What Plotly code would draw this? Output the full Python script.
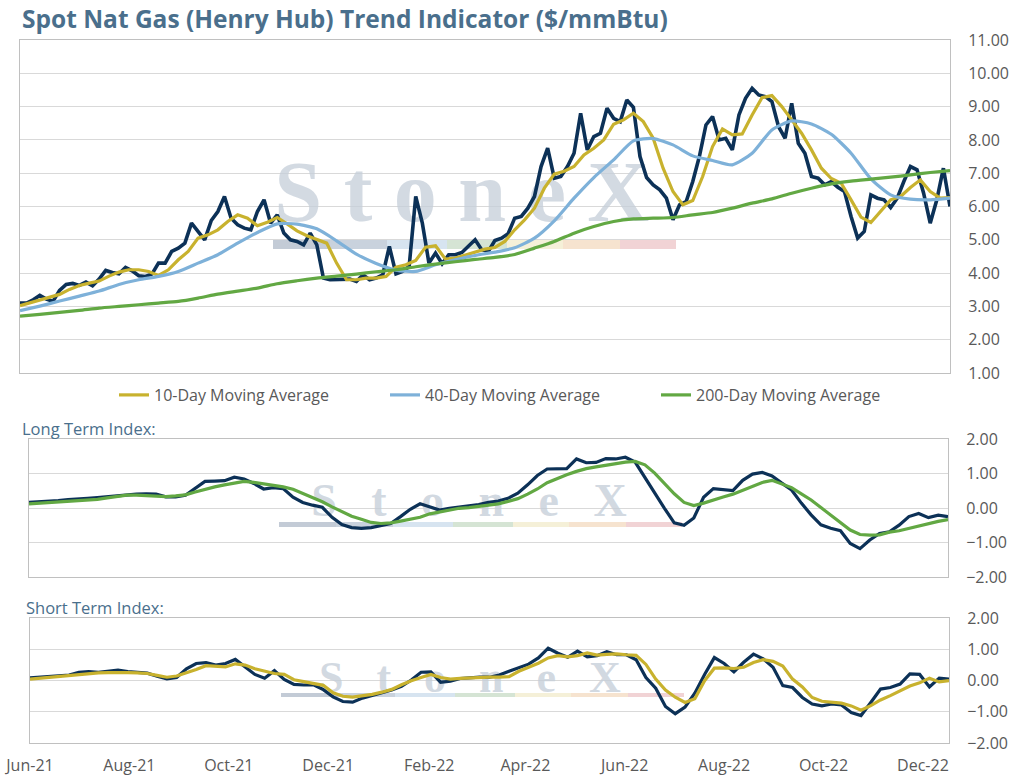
import pandas as pd
import plotly.graph_objects as go

START = "2021-06-01"
END = "2022-12-17"

# Spot price, every 4 days
price = [3.10, 3.10, 3.20, 3.33, 3.22, 3.15, 3.48, 3.66, 3.69, 3.63,
         3.73, 3.62, 3.82, 4.08, 4.02, 3.98, 4.17, 4.07, 3.92, 3.90,
         3.97, 4.30, 4.30, 4.65, 4.75, 4.90, 5.50, 5.25, 5.00, 5.58,
         5.85, 6.30, 5.65, 5.45, 5.35, 5.30, 5.85, 6.20, 5.50, 5.75,
         5.20, 5.00, 4.95, 4.85, 5.20, 4.85, 3.85, 3.80, 3.80, 3.80,
         3.82, 3.75, 3.95, 3.80, 3.85, 3.95, 4.80, 3.98, 4.05, 4.20,
         6.30, 5.50, 4.30, 4.60, 4.28, 4.55, 4.55, 4.62, 4.82, 5.00,
         4.70, 4.65, 4.98, 5.05, 5.18, 5.65, 5.70, 5.95, 6.30, 7.20,
         7.75, 6.85, 6.90, 7.20, 7.60, 8.80, 7.70, 8.10, 8.20, 8.95,
         8.65, 8.55, 9.20, 8.98, 7.50, 6.87, 6.65, 6.50, 6.25, 5.60,
         6.05, 6.15, 6.75, 7.50, 8.45, 8.70, 8.00, 8.05, 7.70, 8.75,
         9.25, 9.55, 9.35, 9.30, 9.15, 8.40, 8.05, 9.10, 7.90, 7.60,
         6.90, 6.85, 6.65, 6.75, 6.58, 6.45, 5.70, 5.05, 5.25, 6.35,
         6.25, 6.20, 5.97, 6.25, 6.75, 7.20, 7.10, 6.40, 5.50, 6.20,
         7.15, 6.00]

# 10-day moving average, every 6 days
ma10 = [3.02, 3.10, 3.19, 3.26, 3.36, 3.51, 3.63, 3.70, 3.76, 3.91,
        4.03, 4.10, 4.10, 4.05, 3.93, 4.10, 4.40, 4.65, 5.05, 5.15,
        5.30, 5.55, 5.75, 5.65, 5.42, 5.53, 5.67, 5.48, 5.27, 5.12,
        5.00, 4.90, 4.30, 3.80, 3.80, 3.85, 3.85, 3.90, 4.18, 4.25,
        4.38, 4.78, 4.82, 4.42, 4.45, 4.54, 4.64, 4.72, 4.77, 4.95,
        5.30, 5.60, 5.95, 6.55, 6.97, 7.06, 7.20, 7.55, 7.75, 8.00,
        8.47, 8.60, 8.80, 8.55, 8.05, 7.15, 6.45, 6.05, 6.18, 6.90,
        7.80, 8.33, 8.15, 8.18, 8.75, 9.27, 9.33, 9.00, 8.60, 8.20,
        7.70, 7.15, 6.84, 6.70, 6.20, 5.68, 5.52, 5.85, 6.20, 6.30,
        6.57, 6.80, 6.45, 6.25, 6.27]

# 40-day and 200-day moving averages, every 12 days
ma40 = [2.87, 3.01, 3.16, 3.31, 3.46, 3.66, 3.80, 3.90, 4.05, 4.30,
        4.55, 4.90, 5.22, 5.48, 5.47, 5.33, 4.97, 4.57, 4.29, 4.09,
        4.05, 4.25, 4.40, 4.53, 4.63, 4.76, 5.05, 5.57, 6.25, 6.87,
        7.40, 7.97, 8.04, 7.85, 7.52, 7.38, 7.25, 7.60, 8.30, 8.57,
        8.48, 8.17, 7.60, 6.83, 6.35, 6.22, 6.20, 6.25]
ma200 = [2.71, 2.76, 2.82, 2.88, 2.95, 3.00, 3.05, 3.10, 3.15, 3.25,
         3.37, 3.46, 3.55, 3.68, 3.77, 3.85, 3.91, 3.97, 4.04, 4.10,
         4.19, 4.27, 4.34, 4.41, 4.47, 4.56, 4.75, 4.95, 5.20, 5.40,
         5.55, 5.63, 5.65, 5.67, 5.75, 5.82, 5.95, 6.10, 6.23, 6.40,
         6.55, 6.68, 6.76, 6.82, 6.88, 6.95, 7.02, 7.08]

# Long term index (every 6 days)
lt_index = [0.17, 0.18, 0.19, 0.22, 0.25, 0.26, 0.29, 0.31, 0.34, 0.37,
            0.39, 0.41, 0.42, 0.41, 0.33, 0.33, 0.38, 0.57, 0.78, 0.79,
            0.80, 0.90, 0.85, 0.72, 0.56, 0.60, 0.57, 0.32, 0.17, 0.09,
            0.03, -0.26, -0.47, -0.56, -0.58, -0.56, -0.50, -0.44, -0.24, -0.03,
            0.13, 0.03, -0.05, 0.00, 0.03, 0.07, 0.11, 0.17, 0.21, 0.29,
            0.44, 0.68, 0.95, 1.14, 1.15, 1.15, 1.43, 1.32, 1.33, 1.44,
            1.43, 1.48, 1.34, 0.88, 0.45, 0.00, -0.42, -0.49, -0.28, 0.32,
            0.57, 0.55, 0.51, 0.81, 0.99, 1.04, 0.94, 0.73, 0.53, 0.15,
            -0.19, -0.48, -0.58, -0.65, -1.02, -1.17, -0.92, -0.73, -0.68, -0.49,
            -0.24, -0.15, -0.27, -0.20, -0.24]
lt_signal = [0.13, 0.15, 0.17, 0.18, 0.19, 0.22, 0.24, 0.26, 0.30, 0.34,
             0.38, 0.38, 0.37, 0.35, 0.34, 0.36, 0.39, 0.47, 0.55, 0.62,
             0.68, 0.74, 0.78, 0.75, 0.71, 0.67, 0.62, 0.55, 0.43, 0.30,
             0.19, 0.04, -0.10, -0.23, -0.32, -0.41, -0.44, -0.42, -0.37, -0.31,
             -0.26, -0.16, -0.10, -0.04, 0.00, 0.02, 0.05, 0.10, 0.13, 0.20,
             0.28, 0.41, 0.56, 0.74, 0.86, 0.97, 1.07, 1.15, 1.20, 1.25,
             1.29, 1.34, 1.36, 1.26, 1.02, 0.73, 0.42, 0.17, 0.08, 0.15,
             0.25, 0.33, 0.41, 0.53, 0.65, 0.75, 0.81, 0.71, 0.60, 0.42,
             0.24, 0.02, -0.20, -0.40, -0.63, -0.76, -0.78, -0.77, -0.69, -0.65,
             -0.58, -0.50, -0.45, -0.38, -0.33]

# Short term index (every 6 days)
st_index = [0.09, 0.11, 0.12, 0.15, 0.18, 0.27, 0.29, 0.27, 0.31, 0.34,
            0.29, 0.26, 0.24, 0.14, 0.06, 0.10, 0.38, 0.55, 0.58, 0.50,
            0.55, 0.68, 0.44, 0.20, 0.08, 0.32, 0.04, -0.12, -0.14, -0.13,
            -0.29, -0.52, -0.67, -0.69, -0.56, -0.47, -0.39, -0.30, -0.18, 0.02,
            0.27, 0.28, -0.05, -0.02, 0.07, 0.10, 0.11, 0.11, 0.18, 0.30,
            0.42, 0.53, 0.73, 1.04, 0.88, 0.75, 0.95, 0.76, 0.80, 0.93,
            0.83, 0.83, 0.67, 0.10, -0.24, -0.83, -1.06, -0.85, -0.40, 0.20,
            0.74, 0.55, 0.28, 0.59, 0.85, 0.70, 0.43, -0.16, -0.22, -0.54,
            -0.75, -0.81, -0.75, -0.78, -1.02, -1.12, -0.70, -0.27, -0.22, -0.11,
            0.22, 0.20, -0.20, 0.08, 0.05]
st_signal = [0.05, 0.08, 0.12, 0.15, 0.17, 0.19, 0.23, 0.25, 0.26, 0.27,
             0.26, 0.25, 0.23, 0.17, 0.11, 0.15, 0.25, 0.36, 0.48, 0.45,
             0.44, 0.54, 0.50, 0.38, 0.30, 0.23, 0.20, 0.03, -0.03, -0.09,
             -0.15, -0.39, -0.50, -0.53, -0.49, -0.44, -0.37, -0.28, -0.13, 0.00,
             0.10, 0.20, 0.10, 0.05, 0.07, 0.09, 0.10, 0.11, 0.11, 0.13,
             0.30, 0.42, 0.56, 0.73, 0.80, 0.76, 0.80, 0.89, 0.82, 0.84,
             0.86, 0.83, 0.81, 0.52, 0.05, -0.30, -0.53, -0.70, -0.58, 0.00,
             0.40, 0.41, 0.39, 0.43, 0.58, 0.67, 0.62, 0.47, 0.05, -0.20,
             -0.54, -0.66, -0.70, -0.72, -0.81, -0.95, -0.80, -0.62, -0.48, -0.33,
             -0.17, -0.07, 0.08, -0.04, 0.00]

TICK_DATES = ["2021-06-01", "2021-08-01", "2021-10-01", "2021-12-01", "2022-02-01",
              "2022-04-01", "2022-06-01", "2022-08-01", "2022-10-01", "2022-12-01"]
TICK_LABELS = ["Jun-21", "Aug-21", "Oct-21", "Dec-21", "Feb-22",
               "Apr-22", "Jun-22", "Aug-22", "Oct-22", "Dec-22"]

d4 = pd.date_range(START, periods=len(price), freq="4D")
d6 = pd.date_range(START, periods=len(ma10), freq="6D")
d12 = pd.date_range(START, periods=len(ma40), freq="12D")
d6b = pd.date_range(START, periods=len(lt_index), freq="6D")

NAVY = "#0c3157"
GOLD = "#c8b22e"
BLUE = "#7eb1d9"
GREEN = "#62a843"
GRID = "#d9d9d9"
FRAME = "#c0c0c0"
LABEL = "#595959"
TITLE = "#4a6f8c"
FONT = "Open Sans"
WM = "rgba(196,205,216,0.75)"

W, H = 1017, 778
def px(x):
    return x / W
def py(y):
    return 1 - y / H

fig = go.Figure()

# watermarks (drawn first so they sit beneath the lines)
wm_text = "<b>" + "\u00a0".join("StoneX") + "</b>"
wm_text2 = "<b>" + "\u00a0\u00a0\u00a0".join("StoneX") + "</b>"
fig.add_trace(go.Scatter(x=["2022-02-24"], y=[6.2], mode="text", text=[wm_text],
                         textfont=dict(family="Liberation Serif", size=86, color=WM),
                         xaxis="x", yaxis="y", showlegend=False, hoverinfo="skip"))
fig.add_trace(go.Scatter(x=["2022-02-26"], y=[0.12], mode="text", text=[wm_text2],
                         textfont=dict(family="Liberation Serif", size=46, color=WM),
                         xaxis="x2", yaxis="y2", showlegend=False, hoverinfo="skip"))
fig.add_trace(go.Scatter(x=["2022-02-26"], y=[0.0], mode="text", text=[wm_text2],
                         textfont=dict(family="Liberation Serif", size=44, color=WM),
                         xaxis="x3", yaxis="y3", showlegend=False, hoverinfo="skip"))

# top panel
fig.add_trace(go.Scatter(x=d4, y=price, mode="lines", line=dict(color=NAVY, width=3.6),
                         name="Spot", showlegend=False, xaxis="x", yaxis="y"))
fig.add_trace(go.Scatter(x=d6, y=ma10, mode="lines", line=dict(color=GOLD, width=3.2),
                         name="10-Day Moving Average", xaxis="x", yaxis="y"))
fig.add_trace(go.Scatter(x=d12, y=ma40, mode="lines", line=dict(color=BLUE, width=3.2, shape="spline", smoothing=0.6),
                         name="40-Day Moving Average", xaxis="x", yaxis="y"))
fig.add_trace(go.Scatter(x=d12, y=ma200, mode="lines", line=dict(color=GREEN, width=3.2, shape="spline", smoothing=0.6),
                         name="200-Day Moving Average", xaxis="x", yaxis="y"))

# long term index
fig.add_trace(go.Scatter(x=d6b, y=lt_index, mode="lines", line=dict(color=NAVY, width=3.2),
                         showlegend=False, xaxis="x2", yaxis="y2"))
fig.add_trace(go.Scatter(x=d6b, y=lt_signal, mode="lines", line=dict(color=GREEN, width=3.2),
                         showlegend=False, xaxis="x2", yaxis="y2"))

# short term index
fig.add_trace(go.Scatter(x=d6b, y=st_index, mode="lines", line=dict(color=NAVY, width=3.2),
                         showlegend=False, xaxis="x3", yaxis="y3"))
fig.add_trace(go.Scatter(x=d6b, y=st_signal, mode="lines", line=dict(color=GOLD, width=3.2),
                         showlegend=False, xaxis="x3", yaxis="y3"))

ytick_font = dict(family=FONT, size=16, color=LABEL)

def xax(domain, anchor, **kw):
    d = dict(domain=domain, anchor=anchor, type="date", range=[START, END],
             showgrid=False, zeroline=False, showline=True, mirror=True,
             linecolor=FRAME, linewidth=1, showticklabels=False, ticks="",
             automargin=False)
    d.update(kw)
    return d

def yax(domain, anchor, rng, dtick):
    return dict(domain=domain, anchor=anchor, side="right", range=rng, dtick=dtick,
                tickformat=".2f", showgrid=True, gridcolor=GRID, gridwidth=1,
                zeroline=False, showline=True, mirror=True, linecolor=FRAME,
                linewidth=1, tickfont=ytick_font, ticks="", ticklabelstandoff=14,
                automargin=False)

# watermark colour bars
seg_x = [0, 57, 114, 174, 234, 290, 347, 403]
seg_col = ["#c3cbd6", "#c9d2dd", "#d7e4f0", "#d5e4d4", "#f5f0d8", "#f6e3cf", "#f1d3d5"]
shapes = []
for x0, (y0, y1) in [(273, (240, 249)), (279, (522, 527)), (281, (693, 697))]:
    for i, c in enumerate(seg_col):
        shapes.append(dict(type="rect", xref="paper", yref="paper",
                           x0=px(x0 + seg_x[i]), x1=px(x0 + seg_x[i + 1]),
                           y0=py(y1), y1=py(y0), fillcolor=c, line=dict(width=0),
                           layer="between"))

fig.update_layout(
    template="none",
    width=W, height=H, margin=dict(l=0, r=0, t=0, b=0, pad=0),
    paper_bgcolor="white", plot_bgcolor="white",
    font=dict(family=FONT, color=LABEL),
    xaxis=xax([px(20), px(950)], "y"),
    yaxis=yax([py(373), py(40)], "x", [1, 11], 1),
    xaxis2=xax([px(29), px(948)], "y2"),
    yaxis2=yax([py(577.3), py(439.3)], "x2", [-2, 2], 1),
    xaxis3=xax([px(30), px(949)], "y3", showticklabels=True, tickvals=TICK_DATES,
               ticktext=TICK_LABELS, tickfont=dict(family=FONT, size=16, color=LABEL),
               ticklabelstandoff=8),
    xaxis4=dict(domain=[px(30), px(949)], anchor="y3", overlaying="x3", side="top",
                type="date", range=[START, END], tickvals=TICK_DATES, ticktext=TICK_LABELS,
                showticklabels=False, ticks="inside", ticklen=6, tickcolor=FRAME,
                showgrid=False, showline=False, zeroline=False, automargin=False),
    yaxis3=yax([py(743), py(618.3)], "x3", [-2, 2], 1),
    legend=dict(orientation="h", x=px(114), xanchor="left", y=py(395), yanchor="middle",
                font=dict(family=FONT, size=16, color=LABEL), itemwidth=30,
                entrywidth=226, entrywidthmode="pixels", bgcolor="rgba(0,0,0,0)"),
    shapes=shapes,
    annotations=[
        dict(text="<b>Spot Nat Gas (Henry Hub) Trend Indicator ($/mmBtu)</b>", xref="paper", yref="paper",
             x=px(20), y=py(18), xanchor="left", yanchor="middle", showarrow=False,
             font=dict(family=FONT, size=24.5, color=TITLE)),
        dict(text="Long Term Index:", xref="paper", yref="paper", x=px(20), y=py(429),
             xanchor="left", yanchor="middle", showarrow=False,
             font=dict(family=FONT, size=16.5, color=TITLE)),
        dict(text="Short Term Index:", xref="paper", yref="paper", x=px(24), y=py(607),
             xanchor="left", yanchor="middle", showarrow=False,
             font=dict(family=FONT, size=16.5, color=TITLE)),
    ],
)

fig.write_html("out.html", config={"displayModeBar": False},
               post_script="document.body.style.margin='0px';")
